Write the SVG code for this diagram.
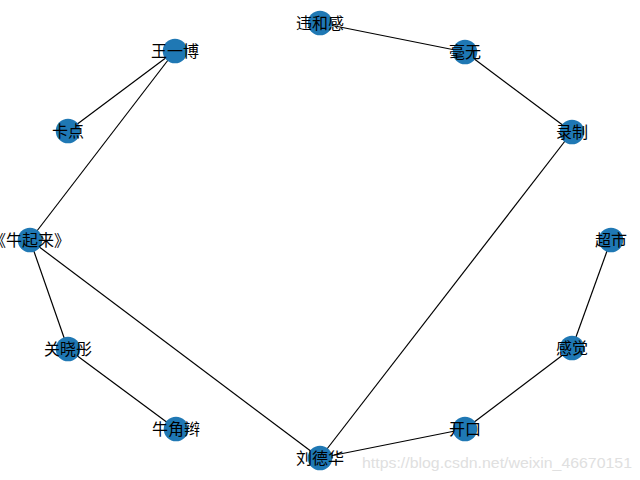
<svg xmlns="http://www.w3.org/2000/svg" width="640" height="480" viewBox="0 0 640 480">
<style>
.n{fill:#1f78b4}
.t{font-family:"Noto Sans CJK SC","Liberation Sans",sans-serif;font-size:16px;fill:#000;text-anchor:middle;dominant-baseline:central}
.e line{stroke:#000;stroke-width:1.2}
.wm{font-family:"Liberation Sans",Arial,sans-serif;font-size:15px;fill:#e0e0e0}
</style>
<rect width="640" height="480" fill="#fff"/>
<g id="edges" class="e">
<line x1="320" y1="23" x2="465" y2="52"/>
<line x1="465" y1="52" x2="572" y2="132"/>
<line x1="572" y1="132" x2="320" y2="458"/>
<line x1="611" y1="240" x2="572" y2="348"/>
<line x1="572" y1="348" x2="465" y2="429"/>
<line x1="465" y1="429" x2="320" y2="458"/>
<line x1="320" y1="458" x2="30" y2="240"/>
<line x1="30" y1="240" x2="175" y2="51"/>
<line x1="175" y1="51" x2="68" y2="131"/>
<line x1="30" y1="240" x2="68" y2="349"/>
<line x1="68" y1="349" x2="176" y2="429"/>
</g>
<g id="n1"><circle class="n" cx="320" cy="23" r="12.3"/><text class="t" x="320" y="22">违和感</text></g>
<g id="n2"><circle class="n" cx="465" cy="52" r="12.3"/><text class="t" x="465" y="51">毫无</text></g>
<g id="n3"><circle class="n" cx="572" cy="132" r="12.3"/><text class="t" x="572" y="131">录制</text></g>
<g id="n4"><circle class="n" cx="611" cy="240" r="12.3"/><text class="t" x="611" y="239">超市</text></g>
<g id="n5"><circle class="n" cx="572" cy="348" r="12.3"/><text class="t" x="572" y="347">感觉</text></g>
<g id="n6"><circle class="n" cx="465" cy="429" r="12.3"/><text class="t" x="465" y="428">开口</text></g>
<g id="n7"><circle class="n" cx="320" cy="458" r="12.3"/><text class="t" x="320" y="457">刘德华</text></g>
<g id="n8"><circle class="n" cx="176" cy="429" r="12.3"/><text class="t" x="176" y="428">牛角辫</text></g>
<g id="n9"><circle class="n" cx="68" cy="349" r="12.3"/><text class="t" x="68" y="348">关晓彤</text></g>
<g id="n10"><circle class="n" cx="30" cy="240" r="12.3"/><text class="t" x="30" y="239">《牛起来》</text></g>
<g id="n11"><circle class="n" cx="68" cy="131" r="12.3"/><text class="t" x="68" y="130">卡点</text></g>
<g id="n12"><circle class="n" cx="175" cy="51" r="12.3"/><text class="t" x="175" y="50">王一博</text></g>
<text class="wm" x="362" y="468" textLength="270" lengthAdjust="spacingAndGlyphs">https://blog.csdn.net/weixin_46670151</text>
</svg>
